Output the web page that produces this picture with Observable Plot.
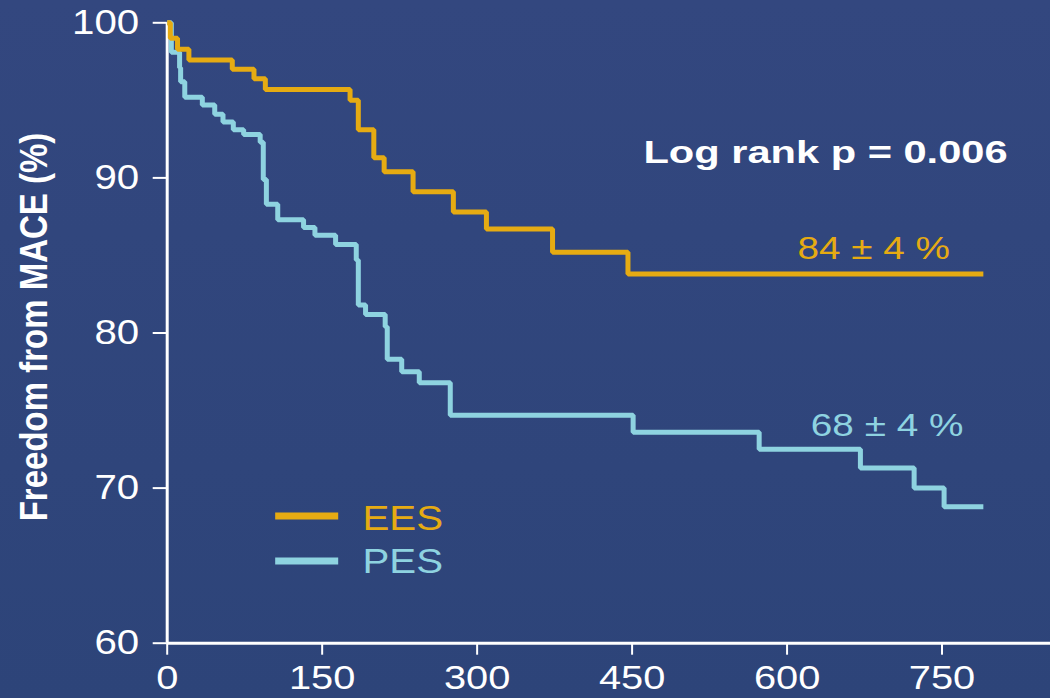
<!DOCTYPE html>
<html>
<head>
<meta charset="utf-8">
<script src="https://cdn.jsdelivr.net/npm/d3@7"></script>
<script src="https://cdn.jsdelivr.net/npm/@observablehq/plot@0.6"></script>
<style>
html, body { margin: 0; padding: 0; }
body { width: 1050px; height: 698px; overflow: hidden; background: linear-gradient(#33477f, #2d4479); font-family: "Liberation Sans", Arial, sans-serif; }
#chart svg { display: block; }
</style>
</head>
<body>
<div id="chart"></div>
<script>
// ---- data ----
const eesDays = [0, 3, 10, 21, 63, 84, 95, 177, 185, 200, 210, 238, 277, 309, 373, 446, 790];
const eesSurv = [100, 99.0, 98.3, 97.6, 97.0, 96.4, 95.7, 95.0, 93.1, 91.3, 90.4, 89.1, 87.8, 86.7, 85.2, 83.8, 83.8];
const pesDays = [0, 4, 12, 13, 17, 34, 46, 54, 64, 74, 90, 93, 96, 107, 132, 143, 163, 183, 185, 192, 211, 213, 227, 244, 274, 451, 573, 671, 723, 752, 790];
const pesSurv = [100, 98.1, 97.1, 96.2, 95.2, 94.7, 94.1, 93.6, 93.1, 92.8, 92.3, 89.9, 88.3, 87.3, 86.8, 86.3, 85.7, 84.7, 81.8, 81.2, 80.4, 78.3, 77.5, 76.8, 74.7, 73.6, 72.5, 71.3, 70.0, 68.8, 68.8];
const groups = ["EES", "PES"];
const groupColors = ["#e6ab12", "#8ed3e0"];
const xTicks = [0, 150, 300, 450, 600, 750];
const yTicks = [60, 70, 80, 90, 100];
const yLabel = "Freedom from MACE (%)";
const pText = "Log rank p = 0.006";
const eesEnd = "84 ± 4 %";
const pesEnd = "68 ± 4 %";

// ---- build tables ----
const ees = eesDays.map((d, i) => ({day: d, surv: eesSurv[i], group: "EES"}));
const pes = pesDays.map((d, i) => ({day: d, surv: pesSurv[i], group: "PES"}));
const legend = [
  {group: "EES", ly: 68.2, ty: 67.3},
  {group: "PES", ly: 65.3, ty: 64.5}
];

const plot = Plot.plot({
  width: 1050,
  height: 698,
  marginLeft: 166.7,
  marginRight: 0,
  marginTop: 22.3,
  marginBottom: 55.3,
  style: {background: "transparent", color: "white", fontFamily: "'Liberation Sans', Arial, sans-serif", overflow: "visible"},
  x: {domain: [0, 855]},
  y: {domain: [60, 100]},
  color: {domain: groups, range: groupColors},
  marks: [
    Plot.axisY({ticks: yTicks, anchor: "left", tickSize: 14, tickPadding: 14, fontSize: 35, strokeWidth: 2, label: null, tickFormat: d => String(d)}),
    Plot.axisX({ticks: xTicks, anchor: "bottom", tickSize: 12, tickPadding: 10, fontSize: 34, strokeWidth: 2, label: null, tickFormat: d => String(d)}),
    Plot.ruleY([60], {stroke: "white", strokeWidth: 3}),
    Plot.ruleX([0], {y1: 60, y2: 100, stroke: "white", strokeWidth: 3}),
    Plot.line(pes, {x: "day", y: "surv", stroke: "group", strokeWidth: 5, curve: "step-after", strokeLinejoin: "miter", strokeLinecap: "butt"}),
    Plot.line(ees, {x: "day", y: "surv", stroke: "group", strokeWidth: 5, curve: "step-after", strokeLinejoin: "miter", strokeLinecap: "butt"}),
    Plot.ruleY(legend, {y: "ly", x1: 105, x2: 166, stroke: "group", strokeWidth: 7}),
    Plot.text(legend, {x: 189, y: "ty", text: "group", fill: "group", fontSize: 35, textAnchor: "start", lineAnchor: "bottom", className: "s115"}),
    Plot.text([eesEnd], {x: 610, y: 84.78, text: d => d, fill: groupColors[0], fontSize: 30.5, textAnchor: "start", lineAnchor: "bottom", className: "s128"}),
    Plot.text([pesEnd], {x: 623, y: 73.33, text: d => d, fill: groupColors[1], fontSize: 30.5, textAnchor: "start", lineAnchor: "bottom", className: "s128"}),
    Plot.text([pText], {x: 461, y: 90.95, text: d => d, fill: "white", fontSize: 32, fontWeight: "bold", textAnchor: "start", lineAnchor: "bottom", className: "s130"}),
    Plot.text([yLabel], {frameAnchor: "left", dx: -132.5, dy: -6, rotate: -90, text: d => d, fill: "white", fontSize: 33, fontWeight: "bold", textAnchor: "middle", lineAnchor: "middle", className: "ylab"})
  ]
});
document.getElementById("chart").appendChild(plot);

// horizontal stretch of the lettering, as in the reference
function stretch(sel, sx, sy) {
  plot.querySelectorAll(sel).forEach(t => {
    const tr = t.getAttribute("transform");
    if (tr) t.setAttribute("transform", tr + ` scale(${sx},${sy})`);
    else {
      const x = parseFloat(t.getAttribute("x")) || 0;
      t.setAttribute("transform", `translate(${x},0) scale(${sx},${sy}) translate(${-x},0)`);
    }
  });
}
stretch('g[aria-label="x-axis tick label"] text', 1.17, 1);
stretch('g[aria-label="y-axis tick label"] text', 1.15, 1);
stretch('g.s115 text', 1.15, 1);
stretch('g.s128 text', 1.27, 1);
stretch('g.s130 text', 1.3, 1);
stretch('g.ylab text', 1, 1.19);
</script>
</body>
</html>
